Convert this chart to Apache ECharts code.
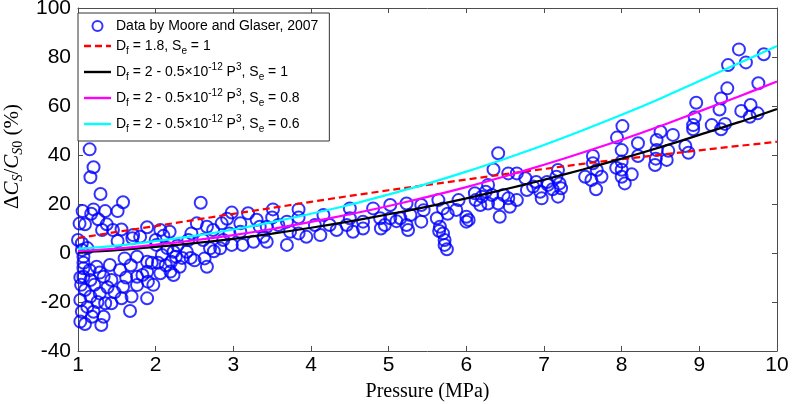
<!DOCTYPE html>
<html>
<head>
<meta charset="utf-8">
<script src="https://cdn.jsdelivr.net/npm/echarts@6/dist/echarts.min.js"></script>
<style>html,body{margin:0;padding:0;background:#fff;}#c{width:793px;height:404px;}</style>
</head>
<body>
<div id="c"></div>
<script>
// Axis ticks
const xTicks = [1, 2, 3, 4, 5, 6, 7, 8, 9, 10];
const yTicks = [-40, -20, 0, 20, 40, 60, 80, 100];

// Model curves sampled along pressure (MPa)
const curveP = [1, 1.5, 2, 2.5, 3, 3.5, 4, 4.5, 5, 5.5, 6, 6.5, 7, 7.5, 8, 8.5, 9, 9.5, 10];
const redVals = [6.1, 8.6, 11.0, 13.5, 16.0, 18.4, 20.9, 23.3, 25.6, 27.8, 30.0, 32.2, 34.3, 36.4, 38.3, 40.1, 41.9, 43.7, 45.4];
const blackVals = [0.3, 1.2, 2.5, 4.0, 5.8, 7.9, 10.3, 12.9, 15.8, 18.9, 22.3, 26.0, 29.9, 34.1, 38.5, 43.2, 48.2, 53.3, 58.8];
const magentaVals = [0.8, 1.8, 3.4, 5.2, 7.3, 9.8, 12.7, 15.8, 19.2, 22.9, 26.9, 31.3, 36.0, 41.0, 46.2, 51.8, 57.8, 63.8, 70.0];
const cyanVals = [1.7, 3.0, 4.9, 7.0, 9.6, 12.6, 16.0, 19.7, 23.9, 28.3, 33.2, 38.5, 44.1, 50.1, 56.4, 63.1, 70.2, 77.3, 84.5];

// Measured data (Moore and Glaser, 2007)
const dataP = [
1.15,1.20,1.16,1.29,1.58,1.51,1.06,1.20,1.35,1.17,1.26,1.09,1.37,1.31,1.45,1.56,1.71,1.89,2.06,2.18,
1.80,2.00,1.51,1.70,1.00,1.05,1.05,1.07,1.07,1.24,1.41,1.60,1.76,1.89,2.08,2.23,2.28,2.42,2.46,1.54,
1.33,1.16,1.09,1.21,1.43,1.58,1.76,1.90,1.76,1.89,2.06,2.19,2.31,1.03,1.16,1.28,1.35,1.43,1.56,1.69,
1.89,1.67,1.05,1.20,1.03,1.09,1.30,1.33,1.18,1.07,1.07,1.15,2.01,2.10,2.15,2.03,2.20,2.26,2.34,2.40,
2.45,2.50,1.02,1.03,1.04,1.12,1.25,1.28,1.12,1.38,1.47,1.62,1.68,1.83,1.95,1.97,2.13,2.23,
2.58,2.53,2.66,2.74,2.85,2.98,2.92,3.09,3.19,3.30,3.34,3.09,2.95,2.87,2.98,3.12,3.26,3.43,3.51,3.50,
3.58,3.69,3.84,3.84,3.73,3.69,3.84,3.94,4.05,4.16,4.12,4.24,4.33,4.50,4.50,4.46,4.54,4.67,4.67,4.80,
4.89,4.90,2.61,2.70,2.75,2.63,2.66,2.83,3.43,3.39,
6.41,6.35,5.02,5.02,5.15,5.23,5.28,5.23,5.25,5.42,5.45,5.42,5.62,5.64,5.66,5.65,5.70,5.72,5.72,5.75,
5.70,5.76,5.87,5.90,6.00,6.00,6.11,6.12,6.18,6.20,6.28,6.25,6.33,6.28,6.41,6.43,6.48,6.54,6.56,6.65,
6.54,6.65,6.76,6.78,6.86,6.90,6.95,6.97,7.05,7.04,7.16,7.18,7.20,7.22,7.18,7.11,7.53,4.95,6.03,5.10,
9.51,9.83,9.60,9.37,9.76,9.36,9.28,8.96,9.26,9.54,9.66,9.75,9.65,9.33,9.28,9.16,8.94,8.92,8.92,8.66,
8.50,8.45,8.82,8.86,8.60,8.58,8.45,8.44,8.43,8.21,8.21,8.01,7.94,8.00,8.00,7.93,8.00,8.00,8.04,8.13,
7.63,7.63,7.68,7.74,7.61,7.67
];
const dataV = [
42.3,35.0,30.9,24.1,20.7,17.1,17.1,17.8,17.1,16.0,13.8,11.7,11.7,9.4,9.4,9.6,7.3,10.5,9.4,8.7,
6.6,5.3,4.9,6.0,5.3,4.0,1.2,-1.5,-6.2,-5.6,-4.9,-2.2,-1.5,-3.6,-0.8,0.5,3.0,5.3,8.0,-6.9,
-9.7,-11.0,-15.1,-13.0,-11.0,-13.8,-13.1,-11.7,-9.7,-7.7,-8.3,-7.6,-5.6,-19.2,-17.8,-16.5,-20.5,-20.5,-18.5,-17.8,
-18.5,-23.7,-24.0,-24.0,-28.0,-29.0,-29.4,-26.0,-26.0,-4.0,-9.7,-7.0,3.3,7.0,2.0,-4.0,-3.6,-1.5,-2.0,0.5,
-2.0,-3.0,12.0,-10.0,-13.0,-22.0,-20.0,-8.0,2.0,-14.0,-16.0,-10.0,-5.0,-9.0,-4.0,-13.0,-5.0,-9.0,
20.5,12.1,10.7,9.4,12.1,16.5,14.0,12.1,16.2,13.6,10.7,8.7,8.0,5.3,3.3,3.3,4.6,4.6,17.8,14.5,
11.4,12.8,17.8,14.5,8.7,3.3,8.0,6.6,11.4,15.5,7.3,11.4,9.4,18.2,14.2,11.4,8.7,12.8,10.0,18.2,
14.2,10.0,5.3,1.9,0.7,-2.2,-5.6,1.9,10.7,6.6,
40.7,34.1,19.6,14.2,14.2,20.2,15.5,11.4,9.4,19.6,17.5,12.8,14.2,21.6,10.7,9.0,8.0,5.3,3.3,1.5,
18.2,16.0,17.6,21.6,14.8,12.8,24.4,21.6,19.6,23.0,27.8,25.0,23.7,20.2,20.2,14.8,23.7,22.3,18.9,21.6,
32.5,32.5,30.5,25.7,27.1,29.0,25.0,22.3,27.8,29.0,31.1,33.9,28.4,26.4,23.0,26.0,31.1,11.4,13.5,13.0,
83.1,81.1,77.8,76.7,69.3,67.2,63.1,61.3,58.6,58.0,60.4,57.0,55.6,52.7,50.5,52.2,55.4,52.2,50.5,48.2,
49.5,46.1,43.7,40.9,41.7,38.0,42.0,38.5,35.9,44.8,39.6,51.8,47.1,42.0,37.3,34.8,34.0,31.1,28.4,32.1,
39.6,36.6,33.9,31.1,29.8,26.0
];

const seriesNames = [
  'Data by Moore and Glaser, 2007',
  'Df = 1.8, Se = 1',
  'Df = 2 - 0.5×10^-12 P^3, Se = 1',
  'Df = 2 - 0.5×10^-12 P^3, Se = 0.8',
  'Df = 2 - 0.5×10^-12 P^3, Se = 0.6'
];
const legendRich = [
  '{a|Data by Moore and Glaser, 2007}',
  '{n|D}{sb|f}{n| = 1.8, S}{sb|e}{n| = 1}',
  '{n|D}{sb|f}{n| = 2 - 0.5×10}{sp|-12}{n| P}{sp|3}{n|, S}{sb|e}{n| = 1}',
  '{n|D}{sb|f}{n| = 2 - 0.5×10}{sp|-12}{n| P}{sp|3}{n|, S}{sb|e}{n| = 0.8}',
  '{n|D}{sb|f}{n| = 2 - 0.5×10}{sp|-12}{n| P}{sp|3}{n|, S}{sb|e}{n| = 0.6}'
];

function pairs(xs, ys) { return xs.map((x, i) => [x, ys[i]]); }

const sans = 'Liberation Sans, Arial, sans-serif';
const serif = 'Liberation Serif, Times New Roman, serif';
const axisCol = '#4d4d4d';
const solidIcon = 'path://M0,0H27V2.4H0Z';
const dashIcon = 'path://M0,0H7V2.4H0Z M11,0H18V2.4H11Z M22,0H27V2.4H22Z';

const chart = echarts.init(document.getElementById('c'), null, {renderer: 'canvas'});
const baseX = {type: 'value', min: xTicks[0], max: xTicks[xTicks.length - 1], interval: 1, splitLine: {show: false}};
const baseY = {type: 'value', min: yTicks[0], max: yTicks[yTicks.length - 1], interval: 20, splitLine: {show: false}};
const lineAx = {show: true, onZero: false, lineStyle: {color: axisCol, width: 1}};
const tickAx = {show: true, inside: true, length: 5, lineStyle: {color: axisCol}};

chart.setOption({
  animation: false,
  backgroundColor: '#fff',
  grid: {left: 78, right: 16, top: 8, bottom: 53, containLabel: false, outerBoundsMode: 'none'},
  legend: {
    left: 78, top: 13, orient: 'vertical',
    padding: [6, 11, 7, 6],
    itemWidth: 27, itemHeight: 10, itemGap: 6,
    backgroundColor: '#fff', borderColor: '#333', borderWidth: 1, borderRadius: 0,
    data: [
      {name: seriesNames[0]},
      {name: seriesNames[1], icon: dashIcon, itemStyle: {color: '#ff0000'}},
      {name: seriesNames[2], icon: solidIcon, itemStyle: {color: '#000000'}},
      {name: seriesNames[3], icon: solidIcon, itemStyle: {color: '#ff00ff'}},
      {name: seriesNames[4], icon: solidIcon, itemStyle: {color: '#00ffff'}}
    ],
    formatter: function (name) { return legendRich[seriesNames.indexOf(name)]; },
    textStyle: {
      fontFamily: sans, fontSize: 14, color: '#000',
      rich: {
        a: {fontFamily: sans, fontSize: 14, color: '#000', lineHeight: 10, verticalAlign: 'middle'},
        n: {fontFamily: sans, fontSize: 14, color: '#000', lineHeight: 20, verticalAlign: 'middle'},
        sb: {fontFamily: sans, fontSize: 10, color: '#000', lineHeight: 9, verticalAlign: 'bottom'},
        sp: {fontFamily: sans, fontSize: 10, color: '#000', lineHeight: 9, verticalAlign: 'top'}
      }
    }
  },
  xAxis: [
    Object.assign({}, baseX, {
      position: 'bottom',
      name: 'Pressure (MPa)', nameLocation: 'middle', nameGap: 31,
      nameTextStyle: {fontFamily: serif, fontSize: 20, color: '#000'},
      axisLine: lineAx, axisTick: tickAx,
      axisLabel: {fontFamily: sans, fontSize: 21, color: '#000', margin: 4}
    }),
    Object.assign({}, baseX, {
      position: 'top',
      axisLine: lineAx, axisTick: tickAx,
      axisLabel: {show: false}
    })
  ],
  yAxis: [
    Object.assign({}, baseY, {
      position: 'left',
      name: '{g|Δ}{i|C}{si|S}{g|/}{i|C}{si|S}{s|0}{g| (%)}',
      nameLocation: 'middle', nameGap: 42, nameRotate: 90,
      nameTextStyle: {
        color: '#000',
        padding: [0, 0, 0, 46],
        rich: {
          g: {fontFamily: serif, fontSize: 21, color: '#000', lineHeight: 26, verticalAlign: 'middle'},
          i: {fontFamily: serif, fontSize: 21, fontStyle: 'italic', color: '#000', lineHeight: 26, verticalAlign: 'middle'},
          si: {fontFamily: serif, fontSize: 14, fontStyle: 'italic', color: '#000', lineHeight: 14, verticalAlign: 'bottom'},
          s: {fontFamily: serif, fontSize: 14, color: '#000', lineHeight: 14, verticalAlign: 'bottom'}
        }
      },
      axisLine: lineAx, axisTick: tickAx,
      axisLabel: {fontFamily: sans, fontSize: 21, color: '#000', margin: 7}
    }),
    Object.assign({}, baseY, {
      position: 'right',
      axisLine: lineAx, axisTick: tickAx,
      axisLabel: {show: false}
    })
  ],
  series: [
    {
      name: seriesNames[0], type: 'scatter', z: 2,
      symbol: 'circle', symbolSize: 12,
      itemStyle: {color: 'rgba(0,0,0,0)', borderColor: '#0000ff', borderWidth: 2},
      data: pairs(dataP, dataV)
    },
    {
      name: seriesNames[1], type: 'line', z: 3, symbol: 'none', showSymbol: false,
      lineStyle: {color: '#ff0000', width: 2.2, type: [7, 4]}, itemStyle: {color: '#ff0000'},
      data: pairs(curveP, redVals)
    },
    {
      name: seriesNames[2], type: 'line', z: 3, symbol: 'none', showSymbol: false, smooth: 0.3,
      lineStyle: {color: '#000000', width: 2.2}, itemStyle: {color: '#000000'},
      data: pairs(curveP, blackVals)
    },
    {
      name: seriesNames[3], type: 'line', z: 3, symbol: 'none', showSymbol: false, smooth: 0.3,
      lineStyle: {color: '#ff00ff', width: 2.2}, itemStyle: {color: '#ff00ff'},
      data: pairs(curveP, magentaVals)
    },
    {
      name: seriesNames[4], type: 'line', z: 3, symbol: 'none', showSymbol: false, smooth: 0.3,
      lineStyle: {color: '#00ffff', width: 2.2}, itemStyle: {color: '#00ffff'},
      data: pairs(curveP, cyanVals)
    }
  ]
});
</script>
</body>
</html>
